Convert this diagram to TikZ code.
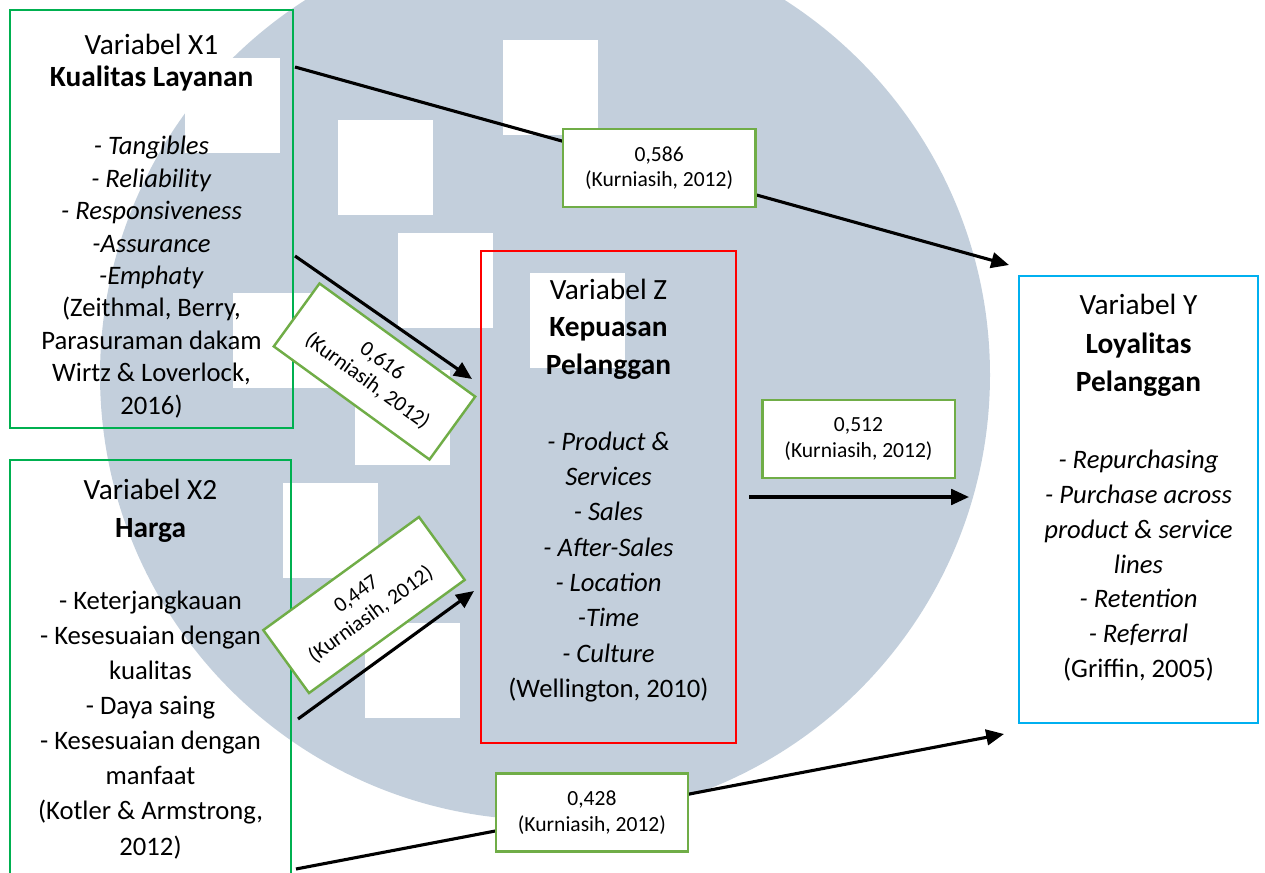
\documentclass[tikz,border=0pt]{standalone}
\usepackage{fontspec}
\setmainfont{Carlito}
\usepackage{tikz}
\usetikzlibrary{arrows.meta,fit,calc}

\definecolor{boxgreen}{HTML}{00B050}
\definecolor{lblgreen}{HTML}{70AD47}
\definecolor{boxred}{HTML}{FF0000}
\definecolor{boxcyan}{HTML}{00B0F0}
\definecolor{umnblue}{HTML}{C3CFDC}

\newcommand{\kopf}[1]{{\fontsize{13.2}{15}\selectfont #1}}

\tikzset{
  varbox/.style={draw=#1, line width=0.9pt, inner sep=0pt},
  vartext/.style={anchor=north, align=center, inner sep=0pt, font=\fontsize{12}{#1}\selectfont},
  lbl/.style={draw=lblgreen, line width=1.1pt, fill=white, minimum width=86.6pt, minimum height=35pt,
    inner sep=0pt, align=center, font=\fontsize{9.7}{11.3}\selectfont},
  arr/.style={line width=1.4pt, -{Triangle[length=8pt,width=7pt]}}
}

\begin{document}
\begin{tikzpicture}[x=0.45pt,y=-0.45pt]
				\useasboundingbox (0,0) rectangle (1265,873);
				\clip (0,0) rectangle (1265,873);
				% Wasserzeichen
				\fill[umnblue] (545,375) circle[radius=445];
				\foreach \sx/\sy in {185/58, 338/120, 503/40, 398/233, 530/273, 233/293, 355/370, 283/483, 365/623}
					\fill[white] (\sx,\sy) rectangle +(95,95);
				% Variabel X1
				\node[varbox=boxgreen, fit={(10,10) (293,428)}] (x1) {};
				\node[vartext=14.6pt] (x1txt) at ($(x1.north)+(0,24.5)$) {\kopf{Variabel X1}\\
					\kopf{\textbf{Kualitas Layanan}}\\[16pt]
					\textit{- Tangibles}\\ \textit{- Reliability}\\ \textit{- Responsiveness}\\
					\textit{-Assurance}\\ \textit{-Emphaty}\\
					(Zeithmal, Berry,\\ Parasuraman dakam\\ Wirtz \& Loverlock,\\ 2016)};
				% Variabel X2
				\node[varbox=boxgreen, fit={(10,460) (291,890)}] (x2) {};
				\node[vartext=15.8pt] (x2txt) at ($(x2.north)+(0,19.5)$) {\kopf{Variabel X2}\\[1.3pt]
					\kopf{\textbf{Harga}}\\[16.6pt]
					- Keterjangkauan\\ - Kesesuaian dengan\\ kualitas\\ - Daya saing\\
					- Kesesuaian dengan\\ manfaat\\ (Kotler \& Armstrong,\\ 2012)};
				% Variabel Z
				\node[varbox=boxred, fit={(481,251) (736,743)}] (z) {};
				\node[vartext=15.9pt] (ztxt) at ($(z.north)+(0,29)$) {\kopf{Variabel Z}\\[0.8pt]
					\kopf{\textbf{Kepuasan}}\\[1.2pt] \kopf{\textbf{Pelanggan}}\\[17.9pt]
					\textit{- Product \&}\\ \textit{Services}\\ \textit{- Sales}\\ \textit{- After-Sales}\\
					\textit{- Location}\\ \textit{-Time}\\ \textit{- Culture}\\ (Wellington, 2010)};
				% Variabel Y
				\node[varbox=boxcyan, fit={(1019,276) (1258,723)}] (y) {};
				\node[vartext=15.65pt] (ytxt) at ($(y.north)+(0,19)$) {\kopf{Variabel Y}\\[1.9pt]
					\kopf{\textbf{Loyalitas}}\\[1.4pt] \kopf{\textbf{Pelanggan}}\\[19pt]
					\textit{- Repurchasing}\\ \textit{- Purchase across}\\ \textit{product \& service}\\
					\textit{lines}\\ \textit{- Retention}\\ \textit{- Referral}\\ (Griffin, 2005)};
				% Pfeile mit Koeffizienten
				\draw[arr] ($(x1.north east)+(1,58)$) -- node[lbl, pos=.51] (l586) {0,586\\(Kurniasih, 2012)} ($(y.north west)+(-9,-10)$);
				\draw[arr] ($(x1.north east)+(1,247)$) -- ($(z.north west)+(-8,129)$);
				\node[lbl, rotate=-36] (l616) at (374.5,371.5) {0,616\\(Kurniasih, 2012)};
				\draw[arr] ($(x2.north east)+(6,260)$) -- ($(z.north west)+(-6,341)$);
				\node[lbl, rotate=36] (l447) at (364,605) {0,447\\(Kurniasih, 2012)};
				\draw[arr] ($(z.east)+(12,0)$) -- ($(z.east -| y.west)+(-49,0)$);
				\node[lbl] (l512) at (858.5,439) {0,512\\(Kurniasih, 2012)};
				\draw[arr] ($(x2.north east)+(4,410)$) -- node[lbl, pos=.418] (l428) {0,428\\(Kurniasih, 2012)} ($(y.south west)+(-14,10)$);
			\end{tikzpicture}
\end{document}
